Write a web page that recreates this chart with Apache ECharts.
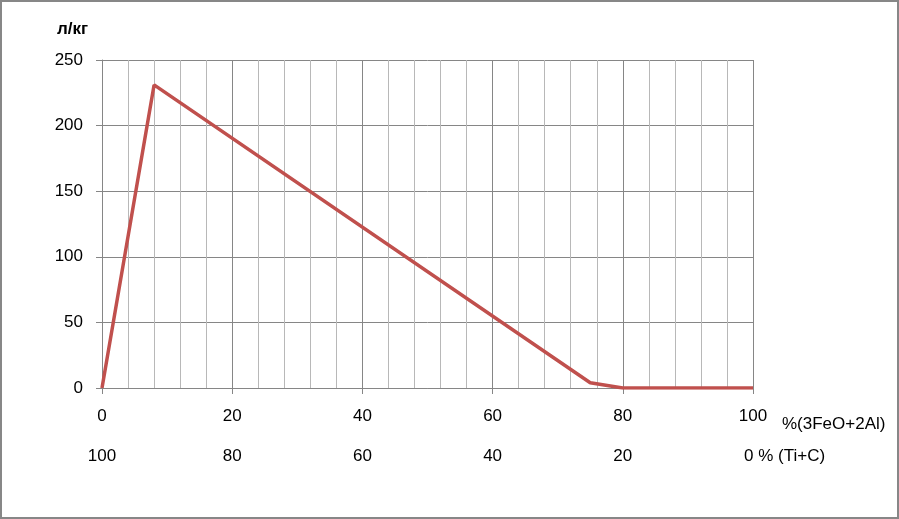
<!DOCTYPE html>
<html><head><meta charset="utf-8">
<script src="https://cdn.jsdelivr.net/npm/echarts@6/dist/echarts.min.js"></script>
<style>
html,body{margin:0;padding:0;background:#fff;}
#c{width:899px;height:519px;box-sizing:border-box;border:2px solid #878787;}
</style></head><body>
<div id="c"></div>
<script>
const xValues = [0, 8, 75, 80, 100];
const yValues = [0, 231, 4, 0, 0];
const yAxisName = 'л/кг';
const xName1 = '%(3FeO+2Al)';
const xName2 = '0 % (Ti+C)';

const chart = echarts.init(document.getElementById('c'));
const font = 'Liberation Sans, Arial, sans-serif';
chart.setOption({
  animation: false,
  backgroundColor: '#fff',
  grid: {left: 100, right: 144, top: 58, bottom: 129, containLabel: false},
  xAxis: [{
    type: 'value', min: 0, max: 100, interval: 20, position: 'bottom',
    axisLine: {show: true, onZero: false, lineStyle: {color: '#868686', width: 1}},
    axisTick: {show: true, length: 6, lineStyle: {color: '#868686'}},
    axisLabel: {margin: 20, fontSize: 17, color: '#000', fontFamily: font},
    splitLine: {show: true, lineStyle: {color: '#868686', width: 1}},
    minorTick: {show: false, splitNumber: 5},
    minorSplitLine: {show: true, lineStyle: {color: '#b8b8b8', width: 1}},
    name: xName1, nameLocation: 'end', nameGap: 29,
    nameTextStyle: {fontSize: 17, color: '#000', fontFamily: font, align: 'left', verticalAlign: 'top', padding: [28, 0, 0, 0]}
  }, {
    type: 'value', min: 0, max: 100, interval: 20, position: 'bottom', offset: 40,
    axisLine: {show: false}, axisTick: {show: false}, splitLine: {show: false},
    axisLabel: {margin: 20, fontSize: 17, color: '#000', fontFamily: font,
      formatter: v => v === 100 ? '' : String(100 - v)},
    name: xName2, nameLocation: 'end', nameGap: -9,
    nameTextStyle: {fontSize: 17, color: '#000', fontFamily: font, align: 'left', verticalAlign: 'top', padding: [60, 0, 0, 0]}
  }],
  yAxis: {
    type: 'value', min: 0, max: 250, interval: 50,
    axisLine: {show: true, lineStyle: {color: '#868686', width: 1}},
    axisTick: {show: true, length: 6, lineStyle: {color: '#868686'}},
    axisLabel: {margin: 19, fontSize: 17, color: '#000', fontFamily: font},
    splitLine: {show: true, lineStyle: {color: '#868686', width: 1}},
    name: yAxisName, nameLocation: 'end', nameGap: 22,
    nameTextStyle: {fontSize: 17, fontWeight: 'bold', color: '#000', fontFamily: font, align: 'right', padding: [0, 14, 0, 0]}
  },
  series: [{
    type: 'line', xAxisIndex: 0,
    data: xValues.map((x, i) => [x, yValues[i]]),
    showSymbol: false, symbol: 'none',
    lineStyle: {color: '#C0504D', width: 3.5},
    z: 5
  }]
});
</script>
</body></html>
